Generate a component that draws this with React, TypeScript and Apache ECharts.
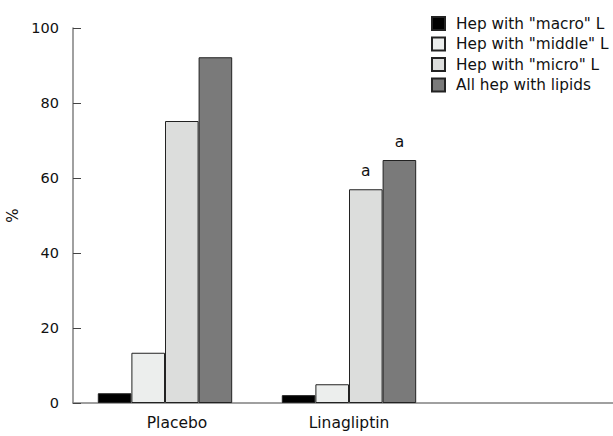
import React, { useEffect, useRef } from "react";
import * as echarts from "echarts";

const categories = ["Placebo", "Linagliptin", ""];
const seriesNames = ['Hep with "macro" L', 'Hep with "middle" L', 'Hep with "micro" L', "All hep with lipids"];
const macroValues = [2.6, 2.1, null];
const middleValues = [13.4, 5.0, null];
const microValues = [75.2, 57.0, null];
const allValues = [92.2, 64.8, null];
const significance = [["", ""], ["", ""], ["", "a"], ["", "a"]];
const yTicks = { min: 0, max: 100, interval: 20 };

const colors = ["#000000", "#eceeed", "#dcdddc", "#7a7a7a"];
const FONT = "DejaVu Sans";

export default function App() {
  const ref = useRef<HTMLDivElement>(null);
  useEffect(() => {
    if (!ref.current) return;
    const chart = echarts.init(ref.current, undefined, { renderer: "svg" });
    const data = [macroValues, middleValues, microValues, allValues];
    chart.setOption({
      animation: false,
      backgroundColor: "#ffffff",
      textStyle: { fontFamily: FONT },
      legend: {
        orient: "vertical",
        left: 426,
        top: 11,
        itemWidth: 13,
        itemHeight: 13,
        itemGap: 5.5,
        icon: "rect",
        textStyle: { fontSize: 15.3, color: "#111", fontFamily: FONT, padding: [0, 0, 0, 6] },
        data: seriesNames,
      },
      grid: { left: 73, top: 28, width: 552, height: 375, containLabel: false, outerBoundsMode: "none" },
      xAxis: {
        type: "category",
        data: categories,
        axisLine: { lineStyle: { color: "#808080", width: 1.5 } },
        axisTick: { show: false },
        axisLabel: {
          fontSize: 15.5,
          color: "#111",
          margin: 12,
          formatter: (v: string) => (v === "Placebo" ? "{p|" + v + "}" : v),
          rich: { p: { fontSize: 15.5, color: "#111", padding: [0, 0, 0, 24] } },
        },
      },
      yAxis: {
        type: "value",
        min: yTicks.min,
        max: yTicks.max,
        interval: yTicks.interval,
        name: "%",
        nameLocation: "middle",
        nameRotate: 90,
        nameGap: 48,
        nameTextStyle: { fontSize: 15, color: "#111" },
        axisLine: { show: true, lineStyle: { color: "#808080", width: 1.5 } },
        axisTick: { show: true, inside: true, length: 8, lineStyle: { color: "#444" } },
        axisLabel: { fontSize: 14.5, color: "#111", margin: 14 },
        splitLine: { show: false },
      },
      series: seriesNames.map((name, i) => ({
        name,
        type: "bar",
        data: data[i],
        barWidth: 33.6,
        barGap: "0%",
        itemStyle: { color: colors[i], borderColor: "#222", borderWidth: 1 },
        label: {
          show: true,
          position: "top",
          distance: 10,
          fontSize: 15.5,
          color: "#111",
          formatter: (p: any) => significance[i][p.dataIndex] || "",
        },
      })),
    });
    return () => chart.dispose();
  }, []);
  return <div ref={ref} style={{ width: 613, height: 436, position: "absolute", left: 0, top: 0 }} />;
}
